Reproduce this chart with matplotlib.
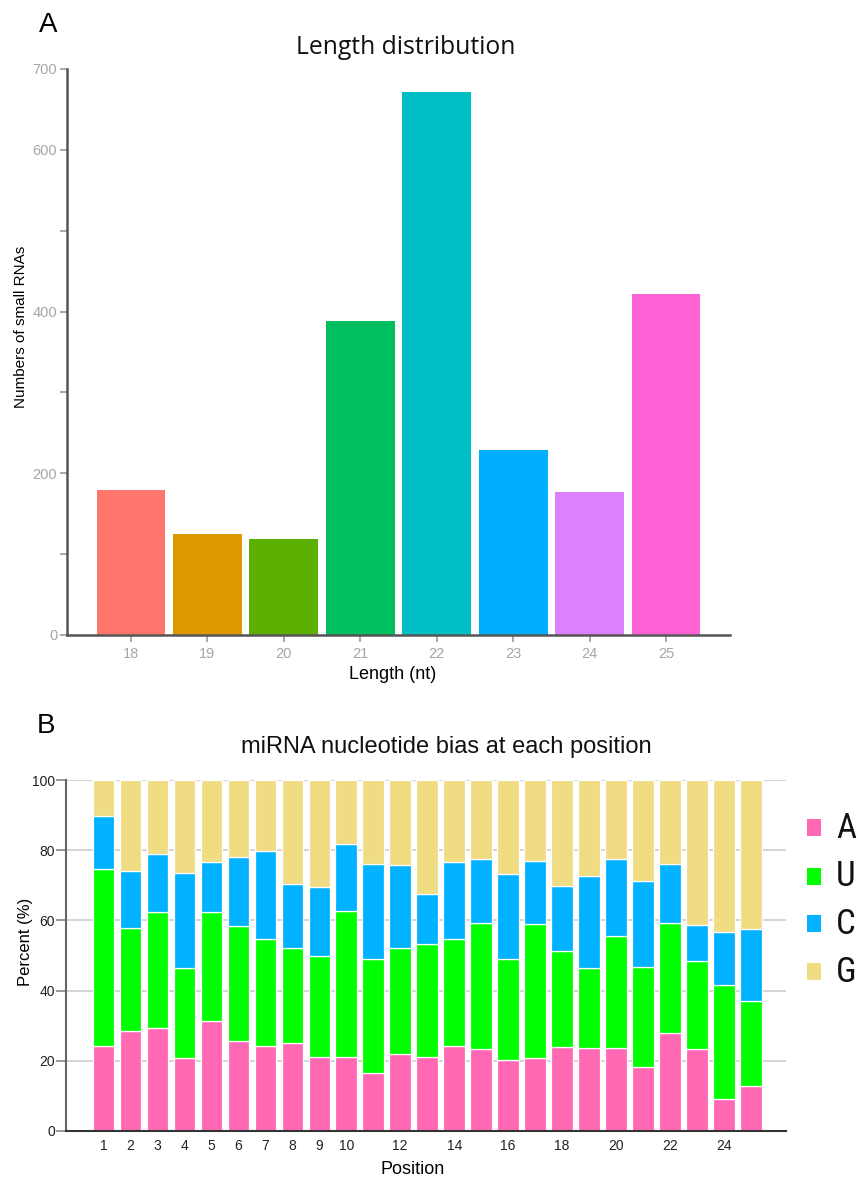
import matplotlib
matplotlib.use("Agg")
import matplotlib.pyplot as plt
from matplotlib.patches import Rectangle
import numpy as np

# ---------------- data ----------------
lengths = [18, 19, 20, 21, 22, 23, 24, 25]
counts = [179, 125, 119, 388, 671, 229, 177, 422]
length_colors = ["#FF766C", "#DE9800", "#5DB000", "#00BF5F",
                 "#00BFC4", "#00AEFF", "#DC80FF", "#FF62D5"]

positions = list(range(1, 26))
# cumulative boundaries (percent)
pct_A = [24.2, 28.5, 29.4, 20.9, 31.3, 25.5, 24.2, 25.2, 21.2, 21.2, 16.6, 21.8, 21.2,
         24.2, 23.3, 20.2, 20.9, 23.8, 23.6, 23.6, 18.1, 27.8, 23.3, 9.0, 12.8]
cum_U = [74.6, 57.9, 62.3, 46.5, 62.3, 58.5, 54.6, 52.2, 49.9, 62.7, 49.0, 52.2, 53.2,
         54.6, 59.4, 49.0, 59.0, 51.3, 46.5, 55.6, 46.8, 59.4, 48.5, 41.6, 37.0]
cum_C = [89.7, 74.1, 78.8, 73.4, 76.7, 78.0, 79.9, 70.3, 69.4, 81.7, 76.0, 75.7, 67.5,
         76.5, 77.5, 73.2, 77.0, 69.9, 72.7, 77.5, 71.2, 76.0, 58.7, 56.6, 57.5]
nucleotides = ["A", "U", "C", "G"]
nuc_colors = ["#FF69B4", "#00FF00", "#00B2FF", "#F0DC82"]
pos_ticks = [1, 2, 3, 4, 5, 6, 7, 8, 9, 10, 12, 14, 16, 18, 20, 22, 24]

pct_A = np.array(pct_A)
pct_U = np.array(cum_U) - pct_A
pct_C = np.array(cum_C) - np.array(cum_U)
pct_G = 100 - np.array(cum_C)

W, H = 860, 1179
fig = plt.figure(figsize=(W / 100, H / 100), dpi=100)


def fx(px):
    return px / W


def fy(py):
    return 1 - py / H


# ---------------- panel A ----------------
ax1 = fig.add_axes([fx(67), fy(635), (730 - 67) / W, (635 - 69) / H])
ax1.bar(lengths, counts, width=0.9, color=length_colors, zorder=2)
ax1.set_xlim(17.163, 25.837)
ax1.set_ylim(0, 700)
ax1.set_yticks([0, 200, 400, 600, 700])
ax1.set_yticks([100, 300, 500], minor=True)
ax1.set_xticks(lengths)
for s in ["top", "right"]:
    ax1.spines[s].set_visible(False)
for s in ["left", "bottom"]:
    ax1.spines[s].set_color("#555555")
    ax1.spines[s].set_linewidth(1.8)
ax1.tick_params(axis="both", which="both", colors="#999999", labelcolor="#A6A6A6",
                labelsize=10.5, length=5, width=1.2)
ax1.tick_params(axis="y", pad=2)
for lab in ax1.get_xticklabels() + ax1.get_yticklabels():
    lab.set_family("Liberation Sans")
ax1.set_xlabel("Length (nt)", fontsize=13, family="Liberation Sans")
ax1.xaxis.set_label_coords((393 - 67) / 663, -(666 - 635) / 566)
ax1.set_ylabel("Numbers of small RNAs", fontsize=11, family="Liberation Sans")
ax1.yaxis.set_label_coords((28 - 67) / 663, (635 - 327) / 566)

fig.text(fx(406), fy(54), "Length distribution", ha="center", va="baseline",
         fontsize=17.8, family="Open Sans", color="#111111")
fig.text(fx(39), fy(32), "A", ha="left", va="baseline", fontsize=20,
         family="Liberation Sans")

# ---------------- panel B ----------------
ax2 = fig.add_axes([fx(66), fy(1131), (786 - 66) / W, (1131 - 780) / H])
bottoms = np.zeros(len(positions))
for vals, col in zip([pct_A, pct_U, pct_C, pct_G], nuc_colors):
    ax2.bar(positions, vals, bottom=bottoms, width=0.8, color=col,
            edgecolor="white", linewidth=0.9, zorder=2)
    bottoms = bottoms + vals
ax2.set_xlim(-0.39, 26.3)
ax2.set_ylim(0, 100)
ax2.set_yticks([0, 20, 40, 60, 80, 100])
ax2.set_xticks(pos_ticks)
ax2.grid(axis="y", color="#D4D4D4", linewidth=1.4, zorder=0)
ax2.set_axisbelow(True)
for s in ["top", "right"]:
    ax2.spines[s].set_visible(False)
ax2.spines["left"].set_color("#666666")
ax2.spines["left"].set_linewidth(1.5)
ax2.spines["bottom"].set_color("#333333")
ax2.spines["bottom"].set_linewidth(1.5)
ax2.tick_params(axis="y", colors="#888888", labelcolor="#222222", labelsize=10,
                length=7, width=1.2, pad=1)
ax2.tick_params(axis="x", length=0, labelcolor="#222222", labelsize=10, pad=6)
for lab in ax2.get_xticklabels() + ax2.get_yticklabels():
    lab.set_family("Liberation Sans")
ax2.set_xlabel("Position", fontsize=13, family="Liberation Sans")
ax2.xaxis.set_label_coords((413 - 66) / 720, -(1161 - 1131) / 351)
ax2.set_ylabel("Percent (%)", fontsize=12, family="Liberation Sans")
ax2.yaxis.set_label_coords((33 - 66) / 720, (1131 - 942) / 351)

fig.text(fx(446), fy(753), "miRNA nucleotide bias at each position", ha="center",
         va="baseline", fontsize=17, family="Liberation Sans", color="#111111")
fig.text(fx(37), fy(733), "B", ha="left", va="baseline", fontsize=20,
         family="Liberation Sans")

# legend (manual layout, colours from nuc_colors)
leg_centers = [827, 876, 923, 971]
leg_family = ["Liberation Sans Narrow", "DejaVu Sans Condensed", "Roboto Condensed",
              "Liberation Sans"]
for lab, col, cy in zip(nucleotides, nuc_colors, leg_centers):
    fig.add_artist(Rectangle((fx(807), fy(cy + 8.5)), 14 / W, 17 / H,
                             transform=fig.transFigure, facecolor=col,
                             edgecolor="none"))
    fig.text(fx(836), fy(cy + 1), lab, ha="left", va="center", fontsize=25,
             family=leg_family, fontstretch="condensed", color="#111111")

fig.savefig("out.png", dpi=100)
